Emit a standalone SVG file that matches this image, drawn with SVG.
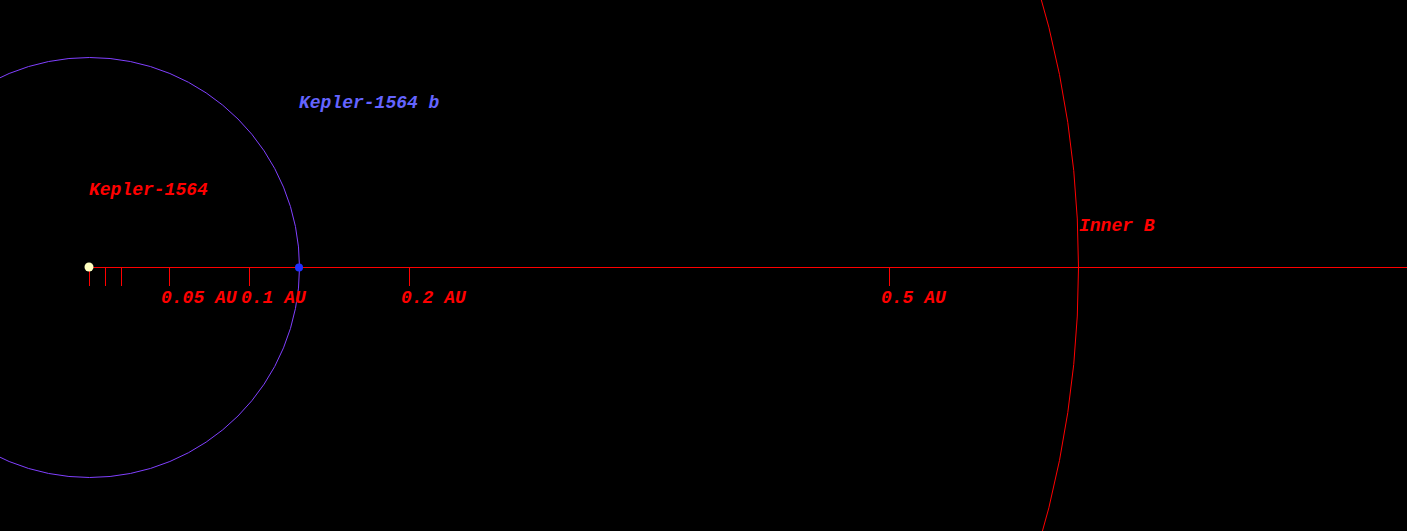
<svg xmlns="http://www.w3.org/2000/svg" width="1407" height="531" viewBox="0 0 1407 531">
<style>
.lbl{font-family:"Liberation Mono","Courier New",monospace;font-size:18px;font-weight:bold;font-style:italic;fill:#ff0000}
.tick{stroke:#ff0000;stroke-width:1}
</style>
<rect x="0" y="0" width="1407" height="531" fill="#000000"/>
<g id="connectors">
<line x1="89" y1="267.5" x2="1407" y2="267.5" stroke="#ff0000" stroke-width="1"/>
<line class="tick" x1="89.5" y1="267" x2="89.5" y2="286"/>
<line class="tick" x1="105.5" y1="267" x2="105.5" y2="286"/>
<line class="tick" x1="121.5" y1="267" x2="121.5" y2="286"/>
<line class="tick" x1="169.5" y1="267" x2="169.5" y2="286"/>
<line class="tick" x1="249.5" y1="267" x2="249.5" y2="286"/>
<line class="tick" x1="409.5" y1="267" x2="409.5" y2="286"/>
<line class="tick" x1="889.5" y1="267" x2="889.5" y2="286"/>
</g>
<g id="orbit-b"><circle cx="89.5" cy="267.5" r="210" fill="none" stroke="#8040ff" stroke-width="1"/></g>
<g id="inner-b"><circle cx="89.5" cy="267.5" r="989" fill="none" stroke="#ff0000" stroke-width="1"/><text class="lbl" x="1079" y="231">Inner B</text></g>
<g id="star"><circle cx="89" cy="267" r="4.5" fill="#ffffc0"/><text class="lbl" x="89" y="195">Kepler-1564</text></g>
<g id="planet"><circle cx="299" cy="267.5" r="4" fill="#2030ff"/><text class="lbl" x="299" y="108" style="fill:#6464ff">Kepler-1564 b</text></g>
<g id="scale-labels">
<text class="lbl" x="161" y="303">0.05 AU</text>
<text class="lbl" x="241" y="303">0.1 AU</text>
<text class="lbl" x="401" y="303">0.2 AU</text>
<text class="lbl" x="881" y="303">0.5 AU</text>
</g>
</svg>
